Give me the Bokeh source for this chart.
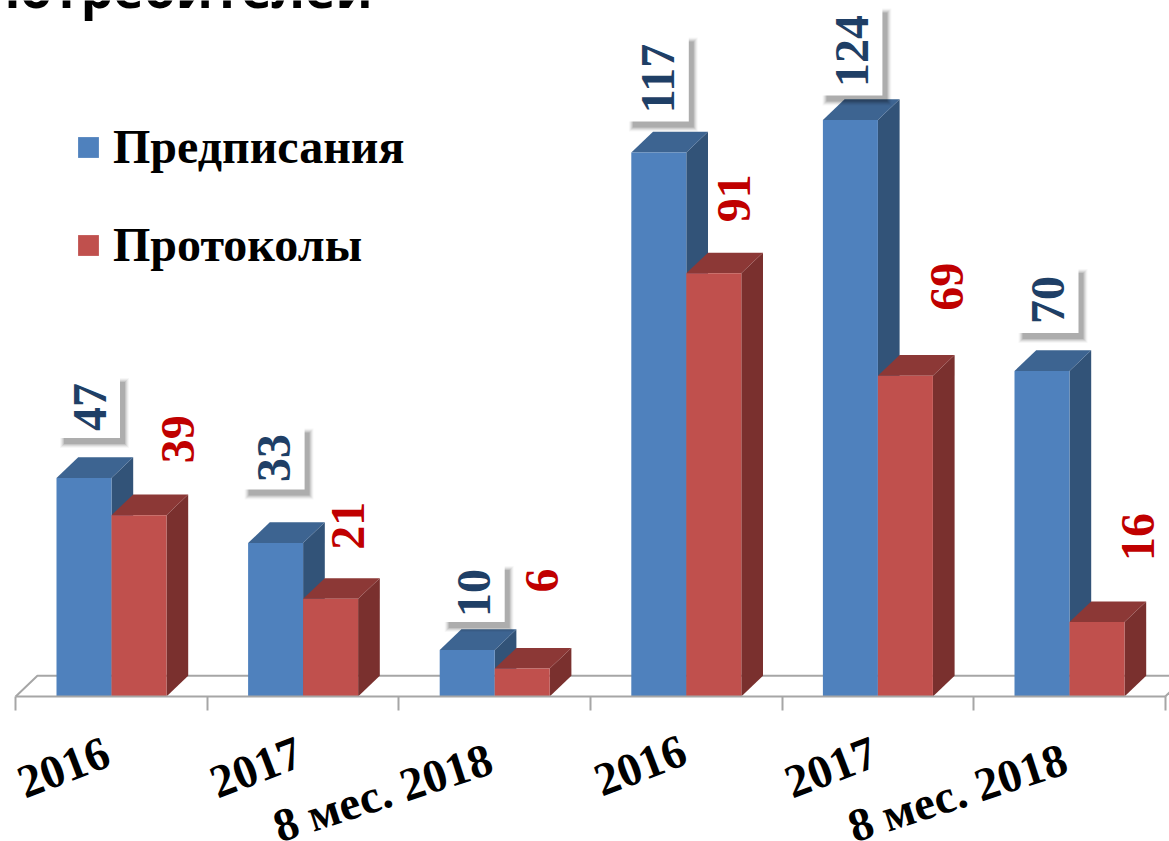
from bokeh.plotting import figure
from bokeh.models import Range1d, FixedTicker, Legend, LegendItem, Label
from bokeh.core.properties import value
from bokeh.embed import file_html
from bokeh.resources import INLINE

# --- data ---
tick_labels = ["2016", "2017", "8 мес. 2018", "2016", "2017", "8 мес. 2018"]
predpisaniya = [47, 33, 10, 117, 124, 70]
protokoly = [39, 21, 6, 91, 69, 16]
series_names = ["Предписания", "Протоколы"]
title_text = "потребителей"

# --- styles / layout (pixels) ---
W, H = 1169, 841
PX_X = 191.6        # px per group
PX_Y = 4.65         # px per value unit
X0_PX, Y0_PX = 111.0, 696.0
BAR = 55 / PX_X
DX, DY = 21.7 / PX_X, 20.7 / PX_Y
BLUE = ("#4F81BD", "#3D6491", "#325378")
RED = ("#C0504D", "#8C3836", "#7A302E")
AXIS = "#A6A6A6"
SERIF = value("Liberation Serif")

# label offsets from the bar's front-top-centre, in px (right, up)
blue_off = [(5.5, 71), (-1.5, 85), (7, 57), (-0.5, 74), (1.5, 69), (6, 71)]
red_off = [(39, 76), (17.5, 73), (19.5, 88), (20, 75), (42, 89), (41, 85)]
box_h = [62, 63, 58, 86, 89, 66]
tick_off = [(-48, -71), (-47, -71), (-112, -96), (-46, -69), (-47, -71), (-112, -96)]
tick_angle = [21, 21, 18, 21, 21, 18]

idx = list(range(len(tick_labels)))
px = lambda n: n / PX_X
py = lambda n: n / PX_Y

p = figure(width=W, height=H, output_backend="svg", toolbar_location=None,
           x_range=Range1d(-X0_PX / PX_X, (W - X0_PX) / PX_X),
           y_range=Range1d((Y0_PX - H) / PX_Y, Y0_PX / PX_Y),
           min_border=0, outline_line_color=None, background_fill_color="white")
p.grid.visible = False
p.yaxis.visible = False

# axis with group-boundary ticks
ax = p.xaxis[0]
ax.fixed_location = 0
ax.bounds = (-0.5, 5.5)
ax.ticker = FixedTicker(ticks=[i - 0.5 for i in range(7)])
ax.major_label_overrides = {i - 0.5: "" for i in range(7)}
ax.major_label_text_font_size = "0px"
ax.major_tick_in = 0
ax.major_tick_out = 14
ax.minor_tick_line_color = None
ax.axis_line_color = AXIS
ax.axis_line_width = 2
ax.major_tick_line_color = AXIS
ax.major_tick_line_width = 2

# 3-D floor outline
p.line([-0.5, -0.5 + DX, (W - X0_PX) / PX_X], [0, DY, DY], line_color=AXIS, line_width=2)
p.line([5.5, 5.5 + px(6)], [0, py(6)], line_color=AXIS, line_width=2)


def bars(vals, left, cols):
    xl = [i + left for i in idx]
    xr = [x + BAR for x in xl]
    p.patches([[x, x + DX, x + DX, x] for x in xr],
              [[0, DY, v + DY, v] for v in vals], fill_color=cols[2], line_color=None)
    p.patches([[a, a + DX, b + DX, b] for a, b in zip(xl, xr)],
              [[v, v + DY, v + DY, v] for v in vals], fill_color=cols[1], line_color=None)
    return p.quad(left=xl, right=xr, bottom=[0] * len(vals), top=vals,
                  fill_color=cols[0], line_color=None)


blue_r = bars(predpisaniya, -BAR, BLUE)
red_r = bars(protokoly, 0, RED)

# blue value labels, on white boxes with a soft shadow
bx = [i - BAR / 2 + px(o[0]) for i, o in zip(idx, blue_off)]
by = [v + py(o[1]) for v, o in zip(predpisaniya, blue_off)]
for grow, alpha in [(8, 0.03), (6, 0.05), (4, 0.07), (2, 0.09), (0, 0.12)]:
    p.rect(x=[x + px(5) for x in bx], y=[y - py(6) for y in by],
           width=px(61 + grow), height=[py(h + grow) for h in box_h],
           fill_color="black", fill_alpha=alpha, line_color=None)
p.rect(x=bx, y=by, width=px(61), height=[py(h) for h in box_h],
       fill_color="white", line_color=None)
p.text(x=bx, y=by, text=[str(v) for v in predpisaniya], angle=90, angle_units="deg",
       text_align="center", text_baseline="middle", text_font=SERIF,
       text_font_style="bold", text_font_size="48px", text_color="#1F3F66")

# red value labels
rx = [i + BAR / 2 + px(o[0]) for i, o in zip(idx, red_off)]
ry = [v + py(o[1]) for v, o in zip(protokoly, red_off)]
p.text(x=rx, y=ry, text=[str(v) for v in protokoly], angle=90, angle_units="deg",
       text_align="center", text_baseline="middle", text_font=SERIF,
       text_font_style="bold", text_font_size="48px", text_color="#C00000")

# rotated category labels
p.text(x=[i + px(o[0]) for i, o in zip(idx, tick_off)],
       y=[py(o[1]) for o in tick_off], text=tick_labels, angle=tick_angle, angle_units="deg",
       text_align="center", text_baseline="middle", text_font=SERIF,
       text_font_style="bold", text_font_size="47px", text_color="black")

# clipped heading at the top of the slide
p.add_layout(Label(x=372, y=H + 13, x_units="screen", y_units="screen", text=title_text,
                   text_align="right", text_baseline="alphabetic",
                   text_font="Open Sans", text_font_style="bold",
                   text_font_size="51.5px", text_color="black"))

legend = Legend(items=[LegendItem(label=series_names[0], renderers=[blue_r]),
                       LegendItem(label=series_names[1], renderers=[red_r])],
                location=(75, H - 272), orientation="vertical",
                background_fill_alpha=0, border_line_color=None,
                padding=0, margin=0, spacing=43, glyph_width=26, glyph_height=26,
                label_standoff=12, label_height=50,
                label_text_font="Liberation Serif", label_text_font_style="bold",
                label_text_font_size="48px", label_text_color="black",
                label_text_baseline="middle")
p.add_layout(legend)

open("out.html", "w").write(file_html(p, INLINE))
